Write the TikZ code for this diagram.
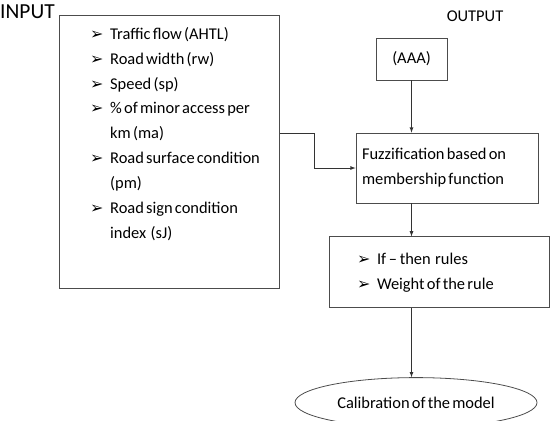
\documentclass[tikz,border=0pt]{standalone}
\usepackage{fontspec}
\setmainfont{Carlito}[WordSpace=0.6]
\newfontfamily\dingfont{DejaVu Sans}
\usetikzlibrary{arrows}
\usetikzlibrary{positioning}
\usetikzlibrary{shapes.geometric}

% arrow bullet and the indent of a wrapped item line
\newcommand{\bul}{\makebox[20bp][l]{\dingfont\fontsize{16}{16}\selectfont ➢}}
\newcommand{\cont}{\hspace*{20bp}}

\begin{document}
\begin{tikzpicture}[x=1bp, y=-1bp]

\tikzstyle{box}=[draw=black!70, thick, inner sep=0pt]
\tikzstyle{line}=[draw, black!80, thick, -latex]
\tikzstyle{label}=[inner sep=0pt, font=\fontsize{16.5}{18}\selectfont]
\tikzstyle{list}=[inner sep=0pt, align=flush left, font=\fontsize{16.5}{25}\selectfont]

\useasboundingbox (0,0) rectangle (550,420);

\node[label, anchor=west, font=\fontsize{21.5}{22}\selectfont] (input_label) at (0,12) {INPUT};
\node[box, anchor=north west, minimum width=220bp, minimum height=273bp] (input) at (59,15) {};
\node[list, anchor=north west] (input_list) at (90,27) {%
\bul Traffic flow (AHTL)\\
\bul Road width (rw)\\
\bul Speed (sp)\\
\bul \% of minor access per\\
\cont km (ma)\\
\bul Road surface condition\\
\cont (pm)\\
\bul Road sign condition\\
\cont index\ \ (sJ)};

\node[label] (output_label) at (475,16) {OUTPUT};
\node[box, label, minimum width=71bp, minimum height=42bp] (aaa) at (411.5,59) {(AAA)};

\node[box, list, text width=170bp, inner xsep=6bp, minimum height=70bp] (fuzz) at (447,168) {%
Fuzzification based on\\
membership function};

\node[box, list, text width=164bp, inner xsep=28bp, minimum height=71bp, below=33bp of fuzz, xshift=-8bp] (rules) {%
\bul If\,--\,then\ \ rules\\
\bul Weight of the rule};

\node[draw=black!70, thick, ellipse, label, minimum width=242bp, minimum height=50bp, below=69bp of rules, xshift=-23bp] (calib) {Calibration of the model};

\coordinate (turn) at (314,133);

\path[line] (input.east |- turn) -- (turn) |- (fuzz.west);
\path[line] (aaa) -- (aaa |- fuzz.north);
\path[line] (aaa |- fuzz.south) -- (aaa |- rules.north);
\path[line] (aaa |- rules.south) -- (aaa |- calib.north);

\end{tikzpicture}
\end{document}
